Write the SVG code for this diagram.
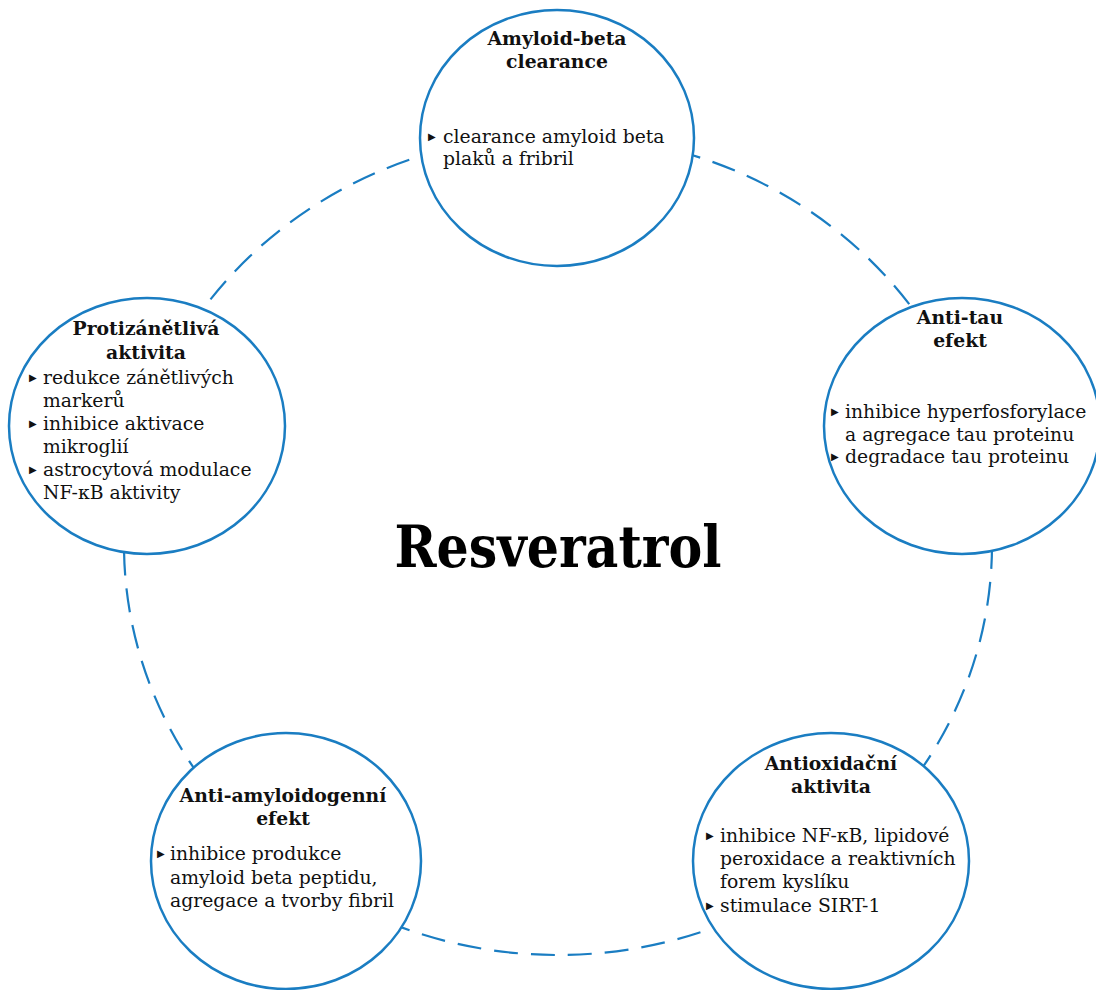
<svg xmlns="http://www.w3.org/2000/svg" width="1096" height="990" viewBox="0 0 1096 990">
<style>
.node{fill:#ffffff;stroke:#1a7dc2;stroke-width:2.5}
.conn{fill:none;stroke:#1a7dc2;stroke-width:2.2;stroke-dasharray:24 13}
.t{font-family:"DejaVu Serif","Liberation Serif",serif;font-weight:bold;font-size:18.8px;fill:#111;text-anchor:middle}
.b{font-family:"DejaVu Serif","Liberation Serif",serif;font-size:18.8px;fill:#111}
.bul{font-family:"DejaVu Sans",sans-serif;font-size:10px;fill:#111}
.main{font-family:"DejaVu Serif","Liberation Serif",serif;font-weight:bold;font-size:57px;fill:#000;text-anchor:middle}
</style>
<rect width="1096" height="990" fill="#ffffff"/>
<g id="connectors">
<ellipse class="conn" cx="558" cy="545" rx="434" ry="410"/>
</g>
<text class="main" x="558" y="567" textLength="327" lengthAdjust="spacingAndGlyphs">Resveratrol</text>
<g id="node-amyloid-clearance">
<ellipse class="node" cx="557" cy="138" rx="137" ry="128"/>
<text class="t" x="557" y="45">Amyloid-beta</text>
<text class="t" x="557" y="68">clearance</text>
<text class="bul" x="428" y="140">▶</text>
<text class="b" x="443" y="143">clearance amyloid beta</text>
<text class="b" x="443" y="165">plaků a fribril</text>
</g>
<g id="node-protizanetliva">
<ellipse class="node" cx="147" cy="426" rx="138" ry="128"/>
<text class="t" x="146" y="335">Protizánětlivá</text>
<text class="t" x="146" y="359">aktivita</text>
<text class="bul" x="29" y="381">▶</text>
<text class="b" x="43" y="384">redukce zánětlivých</text>
<text class="b" x="43" y="407">markerů</text>
<text class="bul" x="29" y="427">▶</text>
<text class="b" x="43" y="430">inhibice aktivace</text>
<text class="b" x="43" y="453">mikroglií</text>
<text class="bul" x="29" y="473">▶</text>
<text class="b" x="43" y="476">astrocytová modulace</text>
<text class="b" x="43" y="499">NF-κB aktivity</text>
</g>
<g id="node-anti-tau">
<ellipse class="node" cx="962" cy="426" rx="138" ry="128"/>
<text class="t" x="960" y="324">Anti-tau</text>
<text class="t" x="960" y="347">efekt</text>
<text class="bul" x="831" y="415">▶</text>
<text class="b" x="845" y="418">inhibice hyperfosforylace</text>
<text class="b" x="845" y="441">a agregace tau proteinu</text>
<text class="bul" x="831" y="460">▶</text>
<text class="b" x="845" y="463">degradace tau proteinu</text>
</g>
<g id="node-anti-amyloidogenni">
<ellipse class="node" cx="286" cy="861" rx="135" ry="128"/>
<text class="t" x="283" y="802">Anti-amyloidogenní</text>
<text class="t" x="283" y="825">efekt</text>
<text class="bul" x="157" y="857">▶</text>
<text class="b" x="170" y="860">inhibice produkce</text>
<text class="b" x="170" y="884">amyloid beta peptidu,</text>
<text class="b" x="170" y="907">agregace a tvorby fibril</text>
</g>
<g id="node-antioxidacni">
<ellipse class="node" cx="831" cy="861" rx="138" ry="128"/>
<text class="t" x="831" y="770">Antioxidační</text>
<text class="t" x="831" y="793">aktivita</text>
<text class="bul" x="706" y="839">▶</text>
<text class="b" x="720" y="842">inhibice NF-κB, lipidové</text>
<text class="b" x="720" y="865">peroxidace a reaktivních</text>
<text class="b" x="720" y="888">forem kyslíku</text>
<text class="bul" x="706" y="909">▶</text>
<text class="b" x="720" y="912">stimulace SIRT-1</text>
</g>
</svg>
